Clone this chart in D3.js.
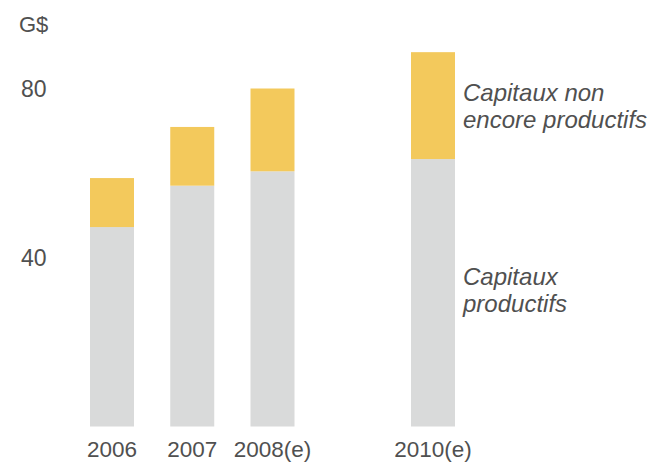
<!DOCTYPE html>
<html>
<head>
<meta charset="utf-8">
<script src="https://cdn.jsdelivr.net/npm/d3@7"></script>
<style>
  body { margin: 0; background: #fff; }
  text { font-family: "Liberation Sans", Arial, sans-serif; fill: #505050; }
</style>
</head>
<body>
<div id="chart"></div>
<script>
// data
const years = [2006, 2007, 2008, 2010];
const yearLabels = ["2006", "2007", "2008(e)", "2010(e)"];
const productive = [47.2, 57.0, 60.4, 63.3];
const notYetProductive = [11.6, 13.9, 19.6, 25.3];
const yTicks = [40, 80];

const width = 647, height = 463;
const barWidth = 44;

const svg = d3.select("#chart").append("svg")
    .attr("width", width)
    .attr("height", height);

// scales
const x = d3.scaleLinear().domain([2006, 2010]).range([112, 433]);
const y = d3.scaleLinear().domain([0, 80]).range([426.5, 88.5]);

const rows = years.map((yr, i) => ({
    year: yr,
    label: yearLabels[i],
    base: productive[i],
    top: notYetProductive[i]
}));

// gray part
svg.selectAll(".base")
    .data(rows)
    .enter()
    .append("rect")
        .attr("class", "base")
        .attr("x", d => x(d.year) - barWidth / 2)
        .attr("width", barWidth)
        .attr("y", d => y(d.base))
        .attr("height", d => y(0) - y(d.base))
        .attr("fill", "#d9dada");

// yellow part
svg.selectAll(".top")
    .data(rows)
    .enter()
    .append("rect")
        .attr("class", "top")
        .attr("x", d => x(d.year) - barWidth / 2)
        .attr("width", barWidth)
        .attr("y", d => y(d.base + d.top))
        .attr("height", d => y(d.base) - y(d.base + d.top))
        .attr("fill", "#f3c95c");

// x labels
svg.selectAll(".xlab")
    .data(rows)
    .enter()
    .append("text")
        .attr("class", "xlab")
        .attr("x", d => x(d.year))
        .attr("y", 457)
        .attr("text-anchor", "middle")
        .attr("font-size", 22.5)
        .text(d => d.label);

// y labels
svg.selectAll(".ylab")
    .data(yTicks)
    .enter()
    .append("text")
        .attr("class", "ylab")
        .attr("x", 21)
        .attr("y", d => y(d) + 8)
        .attr("font-size", 23)
        .text(d => d);

svg.append("text")
    .attr("x", 19)
    .attr("y", 32)
    .attr("font-size", 22)
    .text("G$");

// series labels next to last bar
const labelX = 463;
const notes = [
    { lines: ["Capitaux non", "encore productifs"], y: 100.5 },
    { lines: ["Capitaux", "productifs"], y: 285 }
];
notes.forEach(n => {
    const t = svg.append("text")
        .attr("x", labelX)
        .attr("y", n.y)
        .attr("font-size", 24)
        .attr("font-style", "italic");
    n.lines.forEach((l, i) => {
        t.append("tspan")
            .attr("x", labelX)
            .attr("dy", i === 0 ? 0 : 27)
            .text(l);
    });
});
</script>
</body>
</html>
